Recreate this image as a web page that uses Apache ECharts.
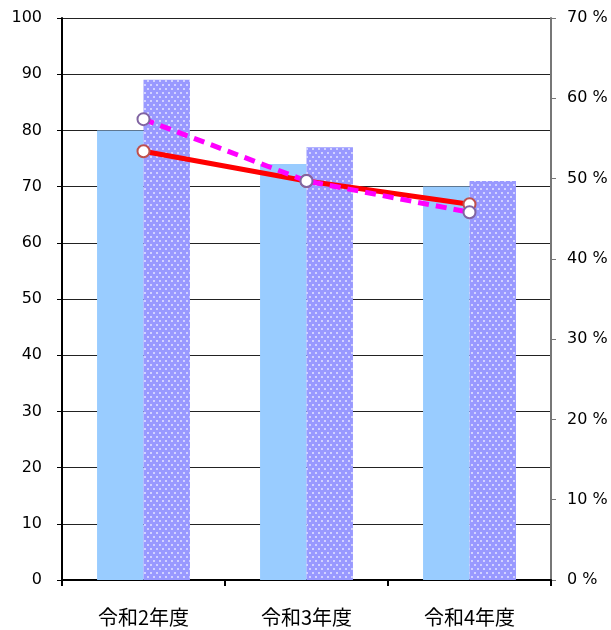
<!DOCTYPE html>
<html><head><meta charset="utf-8">
<script src="https://cdn.jsdelivr.net/npm/echarts@6/dist/echarts.min.js"></script>
<style>html,body{margin:0;padding:0;background:#fff}#c{width:611px;height:630px}</style>
</head><body><div id="c"></div>
<script>
const categories = ['令和2年度', '令和3年度', '令和4年度'];
const barA = [80, 74, 70];
const barB = [89, 77, 71];
const lineRed = [53.4, 49.7, 46.8];
const lineMagenta = [57.4, 49.7, 45.8];
const leftTicks = {min: 0, max: 100, interval: 10};
const rightTicks = {min: 0, max: 70, interval: 10};

const chart = echarts.init(document.getElementById('c'), null, {renderer: 'canvas'});
const numFont = {fontFamily: 'DejaVu Sans', fontSize: 16, color: '#000'};
chart.setOption({
  animation: false,
  grid: {left: 62, right: 60, top: 18, bottom: 50},
  xAxis: {
    type: 'category', data: categories,
    axisLine: {lineStyle: {color: '#000', width: 2}},
    axisTick: {show: true, alignWithLabel: false, length: 6, lineStyle: {color: '#000', width: 2}},
    axisLabel: {fontFamily: 'Noto Sans CJK JP', fontSize: 20, color: '#000', margin: 27}
  },
  yAxis: [{
    type: 'value', min: leftTicks.min, max: leftTicks.max, interval: leftTicks.interval,
    axisLine: {show: true, lineStyle: {color: '#000', width: 2}},
    axisTick: {show: true, length: 5, lineStyle: {color: '#000'}},
    splitLine: {show: true, lineStyle: {color: '#222', width: 1}},
    axisLabel: Object.assign({margin: 20}, numFont)
  }, {
    type: 'value', position: 'right', min: rightTicks.min, max: rightTicks.max, interval: rightTicks.interval,
    axisLine: {show: true, lineStyle: {color: '#777', width: 2}},
    axisTick: {show: true, length: 5, lineStyle: {color: '#777'}},
    splitLine: {show: false},
    axisLabel: Object.assign({margin: 16, formatter: v => v + ' %'}, numFont)
  }],
  series: [{
    type: 'bar', data: barA, barGap: '0%', barCategoryGap: '43%',
    itemStyle: {color: '#99CCFF'}
  }, {
    type: 'bar', data: barB,
    itemStyle: {color: '#9999FF', decal: {symbol: 'circle', symbolSize: 1, color: 'rgba(255,255,255,0.75)', dashArrayX: [[2, 4], [0, 3, 2, 1]], dashArrayY: [2, 2], rotation: 0}}
  }, {
    type: 'line', yAxisIndex: 1, data: lineRed, z: 5,
    lineStyle: {color: '#FF0000', width: 5},
    symbol: 'circle', symbolSize: 12,
    itemStyle: {color: '#fff', borderColor: '#C0504D', borderWidth: 2}
  }, {
    type: 'line', yAxisIndex: 1, data: lineMagenta, z: 6,
    lineStyle: {color: '#FF00FF', width: 5, type: [11, 7]},
    symbol: 'circle', symbolSize: 12,
    itemStyle: {color: '#fff', borderColor: '#8064A2', borderWidth: 2}
  }]
});
</script></body></html>
